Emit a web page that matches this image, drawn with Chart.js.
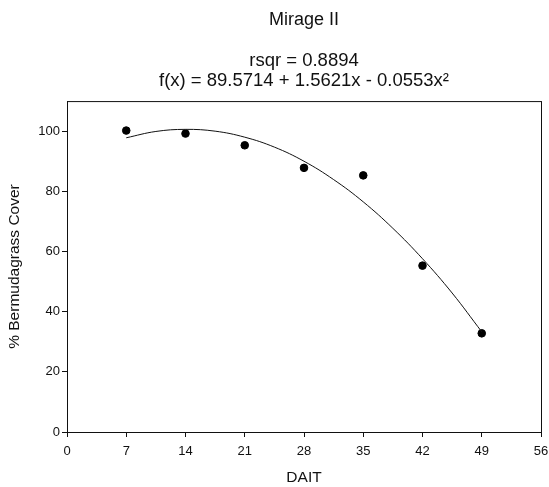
<!DOCTYPE html>
<html>
<head>
<meta charset="utf-8">
<script src="https://cdn.jsdelivr.net/npm/chart.js@4/dist/chart.umd.min.js"></script>
<style>
  html, body { margin: 0; padding: 0; background: #fff; }
  #wrap { width: 549px; height: 487px; }
</style>
</head>
<body>
<div id="wrap"><canvas id="mirageChart"></canvas></div>
<script>
// observed cover values
var days = [7, 14, 21, 28, 35, 42, 49];
var cover = [100.2, 99.2, 95.3, 87.8, 85.3, 55.3, 32.8];

// fitted curve
var fitDays = [7, 10.5, 14, 17.5, 21, 24.5, 28, 31.5, 35, 38.5, 42, 45.5, 49];
var fitCover = [97.8, 99.9, 100.6, 100.0, 98.0, 94.7, 90.0, 83.9, 76.5, 67.7, 57.6, 46.2, 33.3];

var xTicks = [0, 7, 14, 21, 28, 35, 42, 49, 56];
var yTicks = [0, 20, 40, 60, 80, 100];

var textFont = 'Liberation Sans, Arial, sans-serif';
var ink = '#111';

// box round the plot area, titles centred over it
var frame = {
    id: 'frame',
    afterLayout: function (chart) {
        var a = chart.chartArea;
        chart.boxes.forEach(function (b) {
            if (b.position === 'top' && !b.axis) {
                b.left = a.left;
                b.right = a.right;
                b.width = a.right - a.left;
            }
        });
    },
    afterDatasetsDraw: function (chart) {
        var a = chart.chartArea;
        var c = chart.ctx;
        c.save();
        c.strokeStyle = ink;
        c.lineWidth = 1;
        c.strokeRect(a.left + 0.5, a.top + 0.5, a.right - a.left, a.bottom - a.top);
        c.restore();
    }
};

var ctx = document.getElementById('mirageChart').getContext('2d');

new Chart(ctx, {
    type: 'scatter',
    data: {
        datasets: [{
            label: 'Fit',
            data: fitDays.map((d, i) => ({ x: d, y: fitCover[i] })),
            showLine: true,
            borderColor: ink,
            borderWidth: 1,
            pointRadius: 0,
            tension: 0.4,
            fill: false,
        }, {
            label: 'Cover',
            data: days.map((d, i) => ({ x: d, y: cover[i] })),
            backgroundColor: '#000',
            borderColor: '#000',
            pointRadius: 3.8,
            pointHoverRadius: 3.8,
        }],
    },
    options: {
        responsive: true,
        maintainAspectRatio: false,
        animation: false,
        layout: {
            padding: { left: 0, right: 8, top: 0, bottom: 0 },
        },
        plugins: {
            legend: { display: false },
            tooltip: { enabled: false },
            title: {
                display: true,
                text: 'Mirage II',
                color: ink,
                font: { family: textFont, size: 18, weight: 'normal', lineHeight: 1.2 },
                padding: { top: 9.7, bottom: 20.4 },
            },
            subtitle: {
                display: true,
                text: ['rsqr = 0.8894', 'f(x) = 89.5714 + 1.5621x - 0.0553x\u00b2'],
                color: ink,
                font: { family: textFont, size: 18.5, weight: 'normal', lineHeight: 1.04 },
                padding: { top: 0, bottom: 10.9 },
            },
        },
        scales: {
            x: {
                type: 'linear',
                min: 0,
                max: 56,
                afterBuildTicks: function (scale) {
                    scale.ticks = xTicks.map(v => ({ value: v }));
                },
                afterFit: function (scale) {
                    scale.height = 55;
                    scale.paddingRight = 0;
                },
                grid: {
                    drawOnChartArea: false,
                    drawTicks: true,
                    tickLength: 5,
                    color: ink,
                },
                border: { display: true, color: ink },
                ticks: {
                    color: ink,
                    padding: 7,
                    maxRotation: 0,
                    font: { family: textFont, size: 13 },
                },
                title: {
                    display: true,
                    text: 'DAIT',
                    color: ink,
                    font: { family: textFont, size: 15.5 },
                    padding: { top: 0, bottom: 0 },
                },
            },
            y: {
                type: 'linear',
                min: 0,
                max: 110,
                afterBuildTicks: function (scale) {
                    scale.ticks = yTicks.map(v => ({ value: v }));
                },
                afterFit: function (scale) {
                    scale.width = 67;
                },
                grid: {
                    drawOnChartArea: false,
                    drawTicks: true,
                    tickLength: 5,
                    color: ink,
                },
                border: { display: true, color: ink },
                ticks: {
                    color: ink,
                    padding: 2,
                    font: { family: textFont, size: 13 },
                },
                title: {
                    display: true,
                    text: '% Bermudagrass Cover',
                    color: ink,
                    font: { family: textFont, size: 15.5 },
                    padding: { top: 5.7, bottom: 0 },
                },
            },
        },
    },
    plugins: [frame],
});
</script>
</body>
</html>
